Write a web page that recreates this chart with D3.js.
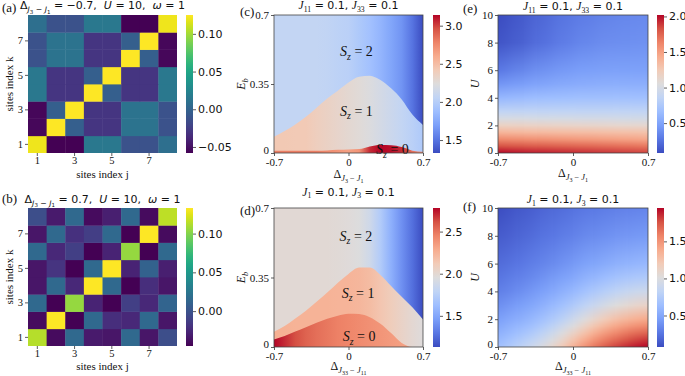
<!DOCTYPE html>
<html><head><meta charset="utf-8">
<script src="https://cdn.jsdelivr.net/npm/d3@7"></script>
<style>body{margin:0;background:#fff}svg{display:block}</style>
</head><body>
<svg id="chart" width="685" height="376"></svg>
<script>
// ================= DATA =================
const sites = [1, 2, 3, 4, 5, 6, 7, 8];
const siteTicks = [1, 3, 5, 7];
// rows: k = 1..8 (bottom to top), columns: j = 1..8
const corrA = [
  [0.120, -0.058, -0.058, 0.015, 0.015, -0.012, -0.012, 0.008],
  [-0.055, 0.125, -0.003, -0.030, -0.030, 0.012, 0.012, -0.012],
  [-0.055, -0.003, 0.125, -0.030, -0.030, 0.012, 0.012, -0.012],
  [0.015, -0.030, -0.030, 0.125, -0.003, -0.030, -0.030, 0.015],
  [0.015, -0.030, -0.030, -0.003, 0.125, -0.030, -0.030, 0.015],
  [-0.012, 0.012, 0.012, -0.030, -0.030, 0.125, -0.003, -0.055],
  [-0.012, 0.012, 0.012, -0.030, -0.030, -0.003, 0.125, -0.055],
  [0.008, -0.012, -0.012, 0.015, 0.015, -0.058, -0.058, 0.120]
];
const corrB = [
  [0.113, -0.040, 0.015, -0.033, -0.035, 0.015, -0.035, -0.003],
  [-0.040, 0.133, -0.045, 0.015, -0.022, -0.025, 0.015, -0.035],
  [0.015, -0.045, 0.105, -0.028, -0.045, -0.012, -0.025, 0.012],
  [-0.035, 0.015, -0.025, 0.133, 0.015, -0.045, -0.022, -0.035],
  [-0.035, -0.018, -0.045, 0.015, 0.133, -0.028, 0.010, -0.030],
  [0.015, -0.025, -0.012, -0.045, -0.028, 0.105, -0.045, 0.015],
  [-0.035, 0.015, -0.020, -0.013, 0.015, -0.045, 0.133, -0.040],
  [-0.003, -0.033, 0.015, -0.040, -0.030, 0.015, -0.040, 0.115]
];
const cbTicksA = [-0.05, 0.00, 0.05, 0.10];
const cbTicksB = [0.00, 0.05, 0.10];

const deltaGrid = [-0.7, -0.6, -0.5, -0.4, -0.3, -0.2, -0.1, 0, 0.1, 0.2, 0.3, 0.4, 0.5, 0.6, 0.7];
const deltaTicks = [-0.7, 0, 0.7];
const ebTicks = [0, 0.35, 0.7];
const uTicks = [0, 2, 4, 6, 8, 10];

// (c) phase diagram: region boundaries (E_b) and colour values along deltaGrid
const cBound12 = [0.083, 0.112, 0.145, 0.184, 0.230, 0.277, 0.316, 0.357, 0.387, 0.392, 0.370, 0.328, 0.272, 0.195, 0.142];
const cBound01 = [0.012, 0.012, 0.012, 0.012, 0.012, 0.013, 0.016, 0.018, 0.020, 0.033, 0.040, 0.039, 0.030, 0.012, 0.006];
const cSz2 = [2.07, 2.07, 2.07, 2.07, 2.07, 2.06, 2.04, 2.02, 1.96, 1.90, 1.82, 1.73, 1.64, 1.50, 1.33];
const cSz1 = [2.43, 2.43, 2.42, 2.42, 2.38, 2.35, 2.32, 2.29, 2.26, 2.22, 2.17, 2.12, 2.07, 2.02, 1.96];
const cSz0 = [2.80, 2.80, 2.80, 2.80, 2.80, 2.75, 2.70, 2.65, 2.70, 3.05, 3.14, 3.12, 3.05, 2.85, 2.70];
const cbTicksC = [1.5, 2.0, 2.5, 3.0];

// (d) phase diagram
const dBound12 = [0.077, 0.106, 0.144, 0.183, 0.228, 0.274, 0.324, 0.368, 0.400, 0.400, 0.363, 0.307, 0.253, 0.200, 0.139];
const dBound01 = [0.038, 0.056, 0.078, 0.100, 0.122, 0.142, 0.158, 0.168, 0.166, 0.150, 0.117, 0.070, 0.020, 0, 0];
const dSz2 = [1.99, 1.99, 1.99, 1.99, 1.99, 1.99, 1.98, 1.97, 1.95, 1.87, 1.72, 1.55, 1.40, 1.27, 1.13];
const dSz1 = [2.26, 2.26, 2.25, 2.25, 2.25, 2.25, 2.24, 2.24, 2.23, 2.20, 2.15, 2.10, 2.05, 2.00, 1.96];
const dSz0 = [2.78, 2.70, 2.62, 2.56, 2.52, 2.49, 2.46, 2.44, 2.42, 2.40, 2.38, 2.36, 2.34, 2.32, 2.30];
const cbTicksD = [1.5, 2.0, 2.5];

// (e) field: rows = eU, columns = eDelta
const eDelta = [-0.7, -0.5, -0.3, -0.1, 0.1, 0.3, 0.5, 0.7];
const eU = [0, 0.5, 1, 1.5, 2, 2.5, 3, 4, 5, 6, 8, 10];
const eValues = [
  [2.02, 1.98, 1.96, 1.94, 1.92, 1.90, 1.88, 1.86],
  [1.82, 1.80, 1.78, 1.76, 1.74, 1.72, 1.70, 1.68],
  [1.60, 1.58, 1.56, 1.54, 1.52, 1.50, 1.48, 1.46],
  [1.38, 1.36, 1.35, 1.34, 1.33, 1.32, 1.31, 1.30],
  [1.18, 1.17, 1.16, 1.15, 1.14, 1.13, 1.12, 1.12],
  [1.00, 1.00, 0.99, 0.99, 0.98, 0.98, 0.97, 0.97],
  [0.86, 0.86, 0.86, 0.86, 0.86, 0.86, 0.86, 0.86],
  [0.62, 0.64, 0.66, 0.67, 0.68, 0.68, 0.68, 0.68],
  [0.42, 0.46, 0.50, 0.53, 0.55, 0.56, 0.56, 0.56],
  [0.28, 0.34, 0.40, 0.44, 0.47, 0.48, 0.48, 0.48],
  [0.12, 0.17, 0.24, 0.30, 0.35, 0.38, 0.39, 0.40],
  [0.08, 0.14, 0.20, 0.26, 0.30, 0.33, 0.35, 0.36]
];
const cbTicksE = [0.5, 1.0, 1.5, 2.0];

// (f) field: rows = fU, columns = deltaGrid
const fU = [0, 0.5, 1, 1.5, 2, 3, 4, 5, 6, 8, 10];
const fValues = [
  [0.65, 0.72, 0.80, 0.88, 0.97, 1.08, 1.20, 1.35, 1.50, 1.62, 1.72, 1.80, 1.86, 1.91, 1.95],
  [0.60, 0.66, 0.73, 0.80, 0.88, 0.98, 1.10, 1.24, 1.38, 1.50, 1.60, 1.68, 1.75, 1.80, 1.84],
  [0.55, 0.60, 0.66, 0.72, 0.80, 0.89, 1.00, 1.12, 1.25, 1.37, 1.47, 1.55, 1.62, 1.67, 1.70],
  [0.50, 0.55, 0.60, 0.65, 0.72, 0.80, 0.90, 1.00, 1.12, 1.23, 1.33, 1.41, 1.47, 1.52, 1.55],
  [0.45, 0.50, 0.54, 0.59, 0.65, 0.72, 0.80, 0.90, 1.00, 1.10, 1.19, 1.27, 1.33, 1.37, 1.40],
  [0.37, 0.41, 0.45, 0.49, 0.54, 0.60, 0.66, 0.73, 0.81, 0.88, 0.95, 1.01, 1.06, 1.10, 1.12],
  [0.30, 0.33, 0.37, 0.41, 0.45, 0.50, 0.55, 0.60, 0.66, 0.72, 0.77, 0.82, 0.86, 0.89, 0.90],
  [0.25, 0.28, 0.31, 0.34, 0.38, 0.42, 0.46, 0.50, 0.55, 0.59, 0.63, 0.67, 0.70, 0.72, 0.73],
  [0.21, 0.23, 0.26, 0.29, 0.32, 0.35, 0.39, 0.42, 0.46, 0.49, 0.52, 0.55, 0.57, 0.59, 0.60],
  [0.14, 0.16, 0.19, 0.21, 0.24, 0.26, 0.29, 0.31, 0.34, 0.36, 0.38, 0.40, 0.41, 0.42, 0.43],
  [0.075, 0.10, 0.13, 0.15, 0.18, 0.20, 0.22, 0.24, 0.26, 0.27, 0.29, 0.30, 0.31, 0.32, 0.33]
];
const cbTicksF = [0.5, 1.0, 1.5];

// ================= DRAWING =================
const svg = d3.select('#chart');
const defs = svg.append('defs');
const SERIF = '"Liberation Serif","Times New Roman",serif';
const SANS = '"DejaVu Sans","Noto Sans",sans-serif';
const INK = '#111';

const coolwarmColors = ['#3b4cc0', '#5977e3', '#7b9ff9', '#9ebeff', '#c0d4f5', '#dddcdc',
  '#f2cbb7', '#f7ac8e', '#ee8468', '#d65244', '#b40426'];
const coolwarmT = d3.scaleLinear().domain(d3.range(11).map(i => i / 10))
  .range(coolwarmColors).interpolate(d3.interpolateRgb).clamp(true);

const P = {
  a: {x0: 28, x1: 177, y0: 15, y1: 153},
  b: {x0: 28, x1: 177, y0: 208, y1: 346},
  c: {x0: 274, x1: 423, y0: 15, y1: 153},
  d: {x0: 274, x1: 423, y0: 208, y1: 347},
  e: {x0: 498, x1: 648, y0: 15, y1: 153},
  f: {x0: 498, x1: 648, y0: 208, y1: 347}
};
const CB = {a: [186, 193], b: [186, 193], c: [433, 440], d: [433, 440], e: [657, 664], f: [657, 664]};

function rich(parent, x, y, parts, o) {
  const size = o.size || 11;
  const t = parent.append('text').attr('x', x).attr('y', y)
    .attr('text-anchor', o.anchor || 'middle').attr('fill', INK)
    .style('white-space', 'pre').attr('font-size', size);
  if (o.rotate) t.attr('transform', `rotate(-90,${x},${y})`);
  let cur = 0;
  parts.forEach(p => {
    const shift = (p.b || 0) * size;
    t.append('tspan').text(p.t)
      .attr('font-family', p.f === 'sans' ? SANS : SERIF)
      .attr('font-style', p.i ? 'italic' : 'normal')
      .attr('font-size', size * (p.s || 1))
      .attr('dy', cur - shift);
    cur = shift;
  });
  return t;
}

function styleAxis(g, fam, size) {
  g.select('.domain').remove();
  g.attr('font-family', fam).attr('font-size', size);
  g.selectAll('line').attr('stroke', '#333').attr('stroke-width', 0.8);
  g.selectAll('text').attr('fill', INK);
}

function colorbar(key, interp, domain, ticks, fmt) {
  const p = P[key], [cx0, cx1] = CB[key];
  const id = 'cb-' + key;
  const grad = defs.append('linearGradient').attr('id', id)
    .attr('x1', 0).attr('y1', 1).attr('x2', 0).attr('y2', 0);
  d3.range(0, 1.0001, 0.05).forEach(t =>
    grad.append('stop').attr('offset', t).attr('stop-color', interp(t)));
  svg.append('rect').attr('x', cx0).attr('y', p.y0).attr('width', cx1 - cx0)
    .attr('height', p.y1 - p.y0).attr('fill', `url(#${id})`);
  const s = d3.scaleLinear().domain(domain).range([p.y1, p.y0]);
  const g = svg.append('g').attr('transform', `translate(${cx1},0)`)
    .call(d3.axisRight(s).tickValues(ticks).tickFormat(fmt).tickSize(3).tickPadding(2));
  styleAxis(g, SANS, 11);
}

function panelLabel(txt, x, y) {
  svg.append('text').attr('x', x).attr('y', y).attr('font-family', SERIF)
    .attr('font-size', 13).attr('fill', INK).text(txt);
}

// ---------- heatmaps (a), (b) ----------
function heatmap(key, matrix, ticks, titleParts, titleY, labOffset) {
  const p = P[key];
  const x = d3.scaleBand().domain(sites).range([p.x0, p.x1]);
  const y = d3.scaleBand().domain(sites).range([p.y1, p.y0]);
  const ext = d3.extent(matrix.flat());
  const color = d3.scaleSequential(d3.interpolateViridis).domain(ext);
  const g = svg.append('g');
  matrix.forEach((row, r) => row.forEach((v, c) => {
    g.append('rect').attr('x', x(sites[c])).attr('y', y(sites[r]))
      .attr('width', x.bandwidth() + (c < 7 ? 0.4 : 0))
      .attr('height', y.bandwidth() + (r > 0 ? 0.4 : 0))
      .attr('fill', color(v));
  }));
  const gx = svg.append('g').attr('transform', `translate(0,${p.y1})`)
    .call(d3.axisBottom(x).tickValues(siteTicks).tickSize(3).tickPadding(1));
  styleAxis(gx, SERIF, 10.5);
  const gy = svg.append('g').attr('transform', `translate(${p.x0},0)`)
    .call(d3.axisLeft(y).tickValues(siteTicks).tickSize(3).tickPadding(2));
  styleAxis(gy, SERIF, 10.5);
  svg.append('text').attr('x', (p.x0 + p.x1) / 2).attr('y', p.y1 + labOffset)
    .attr('text-anchor', 'middle').attr('font-family', SERIF).attr('font-size', 11)
    .attr('fill', INK).text('sites index j');
  svg.append('text').attr('transform', `translate(13,${(p.y0 + p.y1) / 2}) rotate(-90)`)
    .attr('text-anchor', 'middle').attr('font-family', SERIF).attr('font-size', 11)
    .attr('fill', INK).text('sites index k');
  rich(svg, (p.x0 + p.x1) / 2, titleY, titleParts, {size: 11});
  colorbar(key, d3.interpolateViridis, ext, ticks, d3.format('.2f'));
}

const deltaTitle = v => [
  {t: 'Δ', f: 'sans'}, {t: 'J', f: 'sans', i: true, s: 0.7, b: -0.28},
  {t: '3', f: 'sans', s: 0.5, b: -0.42}, {t: ' − ', f: 'sans', s: 0.7, b: -0.28},
  {t: 'J', f: 'sans', i: true, s: 0.7, b: -0.28}, {t: '1', f: 'sans', s: 0.5, b: -0.42},
  {t: ' = ' + v + ',  ', f: 'sans'}, {t: 'U', f: 'sans', i: true},
  {t: ' = 10,  ', f: 'sans'}, {t: 'ω', f: 'sans', i: true}, {t: ' = 1', f: 'sans'}
];
heatmap('a', corrA, cbTicksA, deltaTitle('−0.7'), 9, 25);
heatmap('b', corrB, cbTicksB, deltaTitle('0.7'), 202.5, 24);
panelLabel('(a)', 2, 12);
panelLabel('(b)', 2, 203);

// ---------- shared for (c)-(f) ----------
const jTitle = (a, b) => [
  {t: 'J', i: true, s: 1.05}, {t: a, s: 0.7, b: -0.25}, {t: ' = 0.1, ', f: 'sans'},
  {t: 'J', i: true, s: 1.05}, {t: b, s: 0.7, b: -0.25}, {t: ' = 0.1', f: 'sans'}
];
const dLabel = (a, b) => [
  {t: 'Δ'}, {t: 'J', i: true, s: 0.7, b: -0.28}, {t: a, s: 0.5, b: -0.42},
  {t: ' − ', s: 0.7, b: -0.28}, {t: 'J', i: true, s: 0.7, b: -0.28}, {t: b, s: 0.5, b: -0.42}
];
const numFmt = d => (d === 0 ? '0' : String(d));

function frameAndAxes(key, x, y, yTicks, yLab, xLabParts, titleParts, titleY, xLabY, yLabX) {
  const p = P[key];
  svg.append('rect').attr('x', p.x0).attr('y', p.y0).attr('width', p.x1 - p.x0)
    .attr('height', p.y1 - p.y0).attr('fill', 'none').attr('stroke', '#444').attr('stroke-width', 0.8);
  const gx = svg.append('g').attr('transform', `translate(0,${p.y1})`)
    .call(d3.axisBottom(x).tickValues(deltaTicks).tickFormat(numFmt).tickSize(3).tickPadding(2.5));
  styleAxis(gx, SERIF, 11);
  const gy = svg.append('g').attr('transform', `translate(${p.x0},0)`)
    .call(d3.axisLeft(y).tickValues(yTicks).tickFormat(numFmt).tickSize(3).tickPadding(2));
  styleAxis(gy, SERIF, 11);
  // lift the corner "0" slightly so it does not collide with the "-0.7" below it
  gy.selectAll('.tick text').filter(d => d === 0).attr('dy', '0.05em');
  rich(svg, (p.x0 + p.x1) / 2, titleY, titleParts, {size: 11});
  rich(svg, (p.x0 + p.x1) / 2, xLabY, xLabParts, {size: 12});
  rich(svg, yLabX, (p.y0 + p.y1) / 2, yLab, {size: 12, rotate: true});
}

function clipFor(key) {
  const p = P[key];
  defs.append('clipPath').attr('id', 'clip-' + key).append('rect')
    .attr('x', p.x0).attr('y', p.y0).attr('width', p.x1 - p.x0).attr('height', p.y1 - p.y0);
  return `url(#clip-${key})`;
}

// ---------- phase diagrams (c), (d) ----------
function phase(key, b12, b01, s2, s1, s0, cbTicks, labels, titleParts, titleY, xLabParts, xLabY) {
  const p = P[key];
  const x = d3.scaleLinear().domain([-0.7, 0.7]).range([p.x0, p.x1]);
  const y = d3.scaleLinear().domain([0, 0.7]).range([p.y1, p.y0]);
  const ext = d3.extent([...s2, ...s1, ...s0]);
  const norm = d3.scaleLinear().domain(ext).range([0, 1]);
  const cs = v => coolwarmT(norm(v));
  const makeGrad = (name, vals) => {
    const id = `g-${key}-${name}`;
    const gr = defs.append('linearGradient').attr('id', id).attr('gradientUnits', 'userSpaceOnUse')
      .attr('x1', x(-0.7)).attr('x2', x(0.7)).attr('y1', 0).attr('y2', 0);
    vals.forEach((v, i) => gr.append('stop')
      .attr('offset', (x(deltaGrid[i]) - x(-0.7)) / (x(0.7) - x(-0.7)))
      .attr('stop-color', cs(v)));
    return `url(#${id})`;
  };
  const g = svg.append('g').attr('clip-path', clipFor(key));
  g.append('rect').attr('x', p.x0).attr('y', p.y0).attr('width', p.x1 - p.x0)
    .attr('height', p.y1 - p.y0).attr('fill', makeGrad('s2', s2));
  const area = d3.area().x((d, i) => x(deltaGrid[i])).y0(y(0)).y1(d => y(d)).curve(d3.curveMonotoneX);
  g.append('path').datum(b12).attr('d', area).attr('fill', makeGrad('s1', s1));
  g.append('path').datum(b01).attr('d', area).attr('fill', makeGrad('s0', s0));
  labels.forEach(l => rich(svg, x(l.d), y(l.e), [
    {t: 'S', i: true}, {t: 'z', i: true, s: 0.7, b: -0.25}, {t: ' = ' + l.n}
  ], {size: 14}));
  frameAndAxes(key, x, y, ebTicks, [{t: 'E', i: true}, {t: 'b', i: true, s: 0.7, b: -0.25}],
    xLabParts, titleParts, titleY, xLabY, 245);
  colorbar(key, coolwarmT, ext, cbTicks, d3.format('.1f'));
}

phase('c', cBound12, cBound01, cSz2, cSz1, cSz0, cbTicksC,
  [{n: '2', d: 0.075, e: 0.492}, {n: '1', d: 0.075, e: 0.188}, {n: '0', d: 0.413, e: -0.006}],
  jTitle('11', '33'), 9, dLabel('3', '1'), 178);
phase('d', dBound12, dBound01, dSz2, dSz1, dSz0, cbTicksD,
  [{n: '2', d: 0.07, e: 0.534}, {n: '1', d: 0.09, e: 0.249}, {n: '0', d: 0.1, e: 0.030}],
  jTitle('1', '3'), 195.5, dLabel('33', '11'), 370);
panelLabel('(c)', 240, 16);
panelLabel('(d)', 240, 215);

// ---------- fields (e), (f) ----------
function field(key, xs, us, vals, blurSd, cbTicks, titleParts, titleY, xLabParts, xLabY) {
  const p = P[key];
  const x = d3.scaleLinear().domain([-0.7, 0.7]).range([p.x0, p.x1]);
  const y = d3.scaleLinear().domain([0, 10]).range([p.y1, p.y0]);
  const ext = d3.extent(vals.flat());
  const norm = d3.scaleLinear().domain(ext).range([0, 1]);
  const cs = v => coolwarmT(norm(v));
  const fid = 'blur-' + key;
  defs.append('filter').attr('id', fid).attr('x', '-10%').attr('y', '-10%')
    .attr('width', '120%').attr('height', '120%').attr('color-interpolation-filters', 'sRGB')
    .append('feGaussianBlur').attr('stdDeviation', `${blurSd} 0`);
  const outer = svg.append('g').attr('clip-path', clipFor(key));
  const g = outer.append('g').attr('filter', `url(#${fid})`);
  xs.forEach((xv, i) => {
    const id = `col-${key}-${i}`;
    const gr = defs.append('linearGradient').attr('id', id).attr('gradientUnits', 'userSpaceOnUse')
      .attr('x1', 0).attr('x2', 0).attr('y1', y(0)).attr('y2', y(10));
    us.forEach((u, r) => gr.append('stop')
      .attr('offset', (y(0) - y(u)) / (y(0) - y(10)))
      .attr('stop-color', cs(vals[r][i])));
    let left = i === 0 ? x(xv) - 20 : (x(xs[i - 1]) + x(xv)) / 2;
    let right = i === xs.length - 1 ? x(xv) + 20 : (x(xv) + x(xs[i + 1])) / 2;
    g.append('rect').attr('x', left).attr('y', p.y0 - 2).attr('width', right - left + 0.5)
      .attr('height', p.y1 - p.y0 + 4).attr('fill', `url(#${id})`);
  });
  frameAndAxes(key, x, y, uTicks, [{t: 'U', i: true}], xLabParts, titleParts, titleY, xLabY, 479);
  colorbar(key, coolwarmT, ext, cbTicks, d3.format('.1f'));
}

field('e', eDelta, eU, eValues, 7, cbTicksE, jTitle('11', '33'), 10, dLabel('3', '1'), 177);
field('f', deltaGrid, fU, fValues, 4, cbTicksF, jTitle('1', '3'), 203, dLabel('33', '11'), 370);
panelLabel('(e)', 463, 13);
panelLabel('(f)', 463, 211);
</script>
</body></html>
